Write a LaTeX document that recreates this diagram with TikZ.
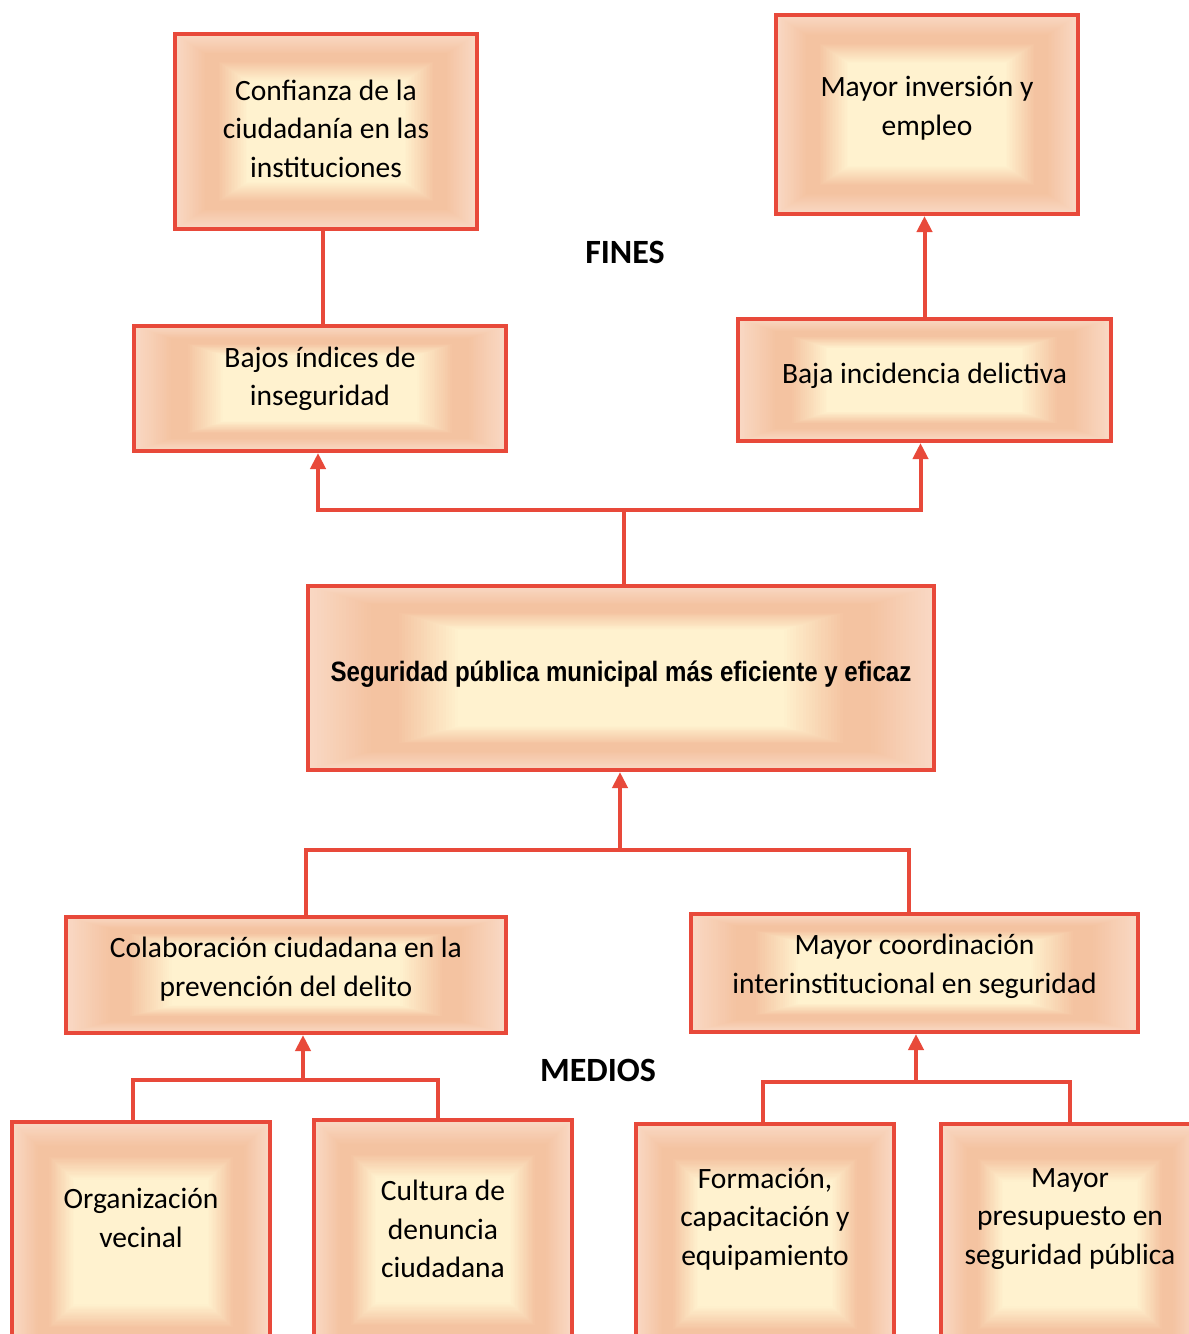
\documentclass[tikz,border=0pt]{standalone}
\usepackage{fontspec}
\setmainfont{Carlito}
\newfontfamily\narrowfont[FakeStretch=0.86]{Liberation Sans}
\usetikzlibrary{arrows.meta,calc}

\definecolor{boxred}{HTML}{E8493A}
\definecolor{peachedge}{HTML}{F9D8C4}
\definecolor{peachdark}{HTML}{F4C3A1}
\definecolor{peachlight}{HTML}{FFF2CF}

\begin{document}
\begin{tikzpicture}[
  x=1pt,y=-1pt,
  >={Triangle[width=15pt,length=16pt]},
  box/.style={draw=boxred,line width=4pt,align=center,inner sep=0pt,
    font=\fontsize{29.5}{38.5}\selectfont,
    path picture={
      \foreach \f in {1.00,0.99,...,0.01}{
        \pgfmathsetmacro\mixa{100*max(0,min(1,(\f-0.8)/0.2))}
        \pgfmathsetmacro\mixb{100*max(0,min(1,(\f-0.52)/0.2))}
        \ifdim\f pt>0.8pt \colorlet{ringcol}{peachedge!\mixa!peachdark}\else\colorlet{ringcol}{peachdark!\mixb!peachlight}\fi
        \fill[ringcol] ($(path picture bounding box.center)!\f!(path picture bounding box.south west)$)
          rectangle ($(path picture bounding box.center)!\f!(path picture bounding box.north east)$);
      }}},
  boxtext/.style={align=center,font=\fontsize{29.5}{38.5}\selectfont},
  link/.style={draw=boxred,line width=4pt},
  uplink/.style={link,->},
  heading/.style={font=\bfseries\fontsize{34}{38}\selectfont}
]
  \useasboundingbox (0,0) rectangle (1189,1334);
  \clip (0,0) rectangle (1189,1334);

  % fines
  \node[box,minimum width=302pt,minimum height=195pt,text depth=6pt] (confianza) at (326,131.5) {Confianza de la\\ciudadanía en las\\instituciones};
  \node[box,minimum width=302pt,minimum height=199pt,text depth=17pt] (inversion) at (927,114.5) {Mayor inversión y\\empleo};
  \node[box,minimum width=372pt,minimum height=125pt,text depth=24pt] (bajos) at (320,388.5) {Bajos índices de\\inseguridad};
  \node[box,minimum width=373pt,minimum height=122pt,text depth=13pt] (incidencia) at (924.5,380) {Baja incidencia delictiva};
  \node[heading] (fines) at (625,252) {FINES};

  % objetivo central
  \node[box,minimum width=626pt,minimum height=184pt,text depth=13pt,font=\narrowfont\bfseries\fontsize{28}{32}\selectfont] (central) at (621,678) {Seguridad pública municipal más eficiente y eficaz};

  % medios
  \node[box,minimum width=440pt,minimum height=116pt,text depth=17pt] (colaboracion) at (286,975) {Colaboración ciudadana en la\\prevención del delito};
  \node[box,minimum width=447pt,minimum height=118pt,text depth=19pt] (coordinacion) at (914.5,973) {Mayor coordinación\\interinstitucional en seguridad};
  \node[heading] (medios) at (598,1070) {MEDIOS};

  \node[box,minimum width=258pt,minimum height=240pt] (vecinal) at (141,1242) {};
  \node[box,minimum width=258pt,minimum height=240pt] (denuncia) at (443,1240) {};
  \node[box,minimum width=258pt,minimum height=240pt] (formacion) at (765,1244) {};
  \node[box,minimum width=258pt,minimum height=240pt] (presupuesto) at (1070,1244) {};
  \node[boxtext] (vecinaltxt) at (141,1218) {Organización\\vecinal};
  \node[boxtext] (denunciatxt) at (443,1229) {Cultura de\\denuncia\\ciudadana};
  \node[boxtext] (formaciontxt) at (765,1219) {Formación,\\capacitación y\\equipamiento};
  \node[boxtext] (presupuestotxt) at (1070,1219) {Mayor\\presupuesto en\\seguridad pública};

  % conectores
  \coordinate (finesj) at (624,510);
  \coordinate (mediosj) at (620,850);
  \coordinate (colabj) at (303,1080);
  \coordinate (coordj) at (916,1082);

  \draw[link] (central.north -| finesj) -- (finesj);
  \draw[link] ([xshift=-3pt]confianza.south) -- ([xshift=-3pt]confianza.south |- bajos.north);
  \draw[uplink] (incidencia.north) -- (incidencia.north |- inversion.south);
  \draw[uplink] (finesj) -| ([xshift=-2pt]bajos.south);
  \draw[uplink] (finesj) -| ([xshift=-4pt]incidencia.south);

  \draw[uplink] (mediosj) -- (mediosj |- central.south);
  \draw[link] ([xshift=20pt]colaboracion.north) |- (mediosj) -| ([xshift=-6pt]coordinacion.north);

  \draw[uplink] (colabj) -- (colabj |- colaboracion.south);
  \draw[link] ([xshift=-8pt]vecinal.north) |- (colabj) -| ([xshift=-5pt]denuncia.north);

  \draw[uplink] (coordj) -- (coordj |- coordinacion.south);
  \draw[link] ([xshift=-2pt]formacion.north) |- (coordj) -| (presupuesto.north);
\end{tikzpicture}
\end{document}
